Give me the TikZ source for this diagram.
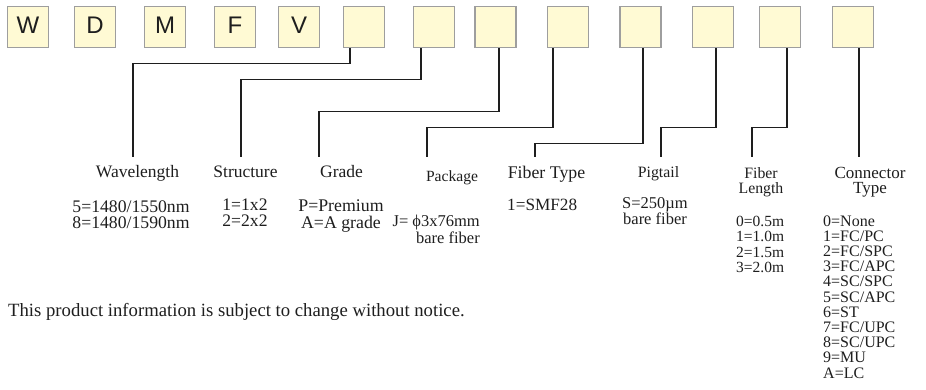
\documentclass[tikz,border=0pt]{standalone}
\usepackage{fontspec}
\setmainfont{Liberation Serif}
\newfontfamily\boxfont{Liberation Sans}
\newcommand{\stk}[2]{\begin{tabular}[t]{@{}#1@{}}#2\end{tabular}}
\definecolor{boxfill}{RGB}{255,250,212}
\definecolor{boxedge}{RGB}{158,158,158}
\definecolor{ink}{RGB}{30,30,30}
\begin{document}
\begin{tikzpicture}[x=1pt,y=-1pt,
  codebox/.style={draw=boxedge,fill=boxfill,line width=1.3pt,minimum width=41pt,minimum height=41pt,inner sep=0pt,font=\boxfont\fontsize{24}{24}\selectfont,text=ink,text height=17pt,text depth=5pt},
  wire/.style={draw=ink,line width=1.2pt},
  lbl/.style={anchor=base,inner sep=0pt,text=ink},
]
\useasboundingbox (0,0) rectangle (926,389);
% code boxes
\node[codebox] (b1) at (28,27) {W};
\node[codebox] (b2) at (95,27) {D};
\node[codebox] (b3) at (165,27) {M};
\node[codebox] (b4) at (235,27) {F};
\node[codebox] (b5) at (299,27) {V};
\node[codebox] (b6) at (364,27) {};
\node[codebox] (b7) at (434,27) {};
\node[codebox] (b8) at (495.5,27) {};
\node[codebox] (b9) at (568,27) {};
\node[codebox] (b10) at (640.5,27) {};
\node[codebox] (b11) at (713,27) {};
\node[codebox] (b12) at (780,27) {};
\node[codebox] (b13) at (853,27) {};
% titles
\node[lbl,font=\fontsize{17.5}{16}\selectfont] (wl) at (137.5,177) {Wavelength};
\node[lbl,font=\fontsize{17.5}{16}\selectfont] (st) at (245.5,177) {Structure};
\node[lbl,font=\fontsize{17.5}{16}\selectfont] (gr) at (341.5,177) {Grade};
\node[lbl,font=\fontsize{15.6}{15}\selectfont] (pk) at (452,181) {Package};
\node[lbl,font=\fontsize{17.8}{16}\selectfont] (ft) at (546.5,178) {Fiber Type};
\node[lbl,font=\fontsize{15.8}{15}\selectfont] (pg) at (658.5,177) {Pigtail};
\node[lbl,font=\fontsize{15.8}{15}\selectfont] (fl) at (761,178) {\stk{c}{Fiber\\Length}};
\node[lbl,font=\fontsize{17}{15}\selectfont] (ct) at (870,178) {\stk{c}{Connector\\Type}};
% data
\node[lbl,font=\fontsize{17.7}{16}\selectfont] (wld) at (131,212) {\stk{c}{5=1480/1550nm\\8=1480/1590nm}};
\node[lbl,font=\fontsize{17.6}{15}\selectfont] (std) at (245,210) {\stk{c}{1=1x2\\2=2x2}};
\node[lbl,font=\fontsize{17.8}{16}\selectfont] (grd) at (341,211) {\stk{c}{P=Premium\\A=A grade}};
\node[lbl,anchor=base east,font=\fontsize{16.5}{17}\selectfont] (pkd) at (480,226) {\stk{r}{J= ϕ3x76mm\\bare fiber}};
\node[lbl,anchor=base west,font=\fontsize{17.2}{16}\selectfont] (ftd) at (507,210) {1=SMF28};
\node[lbl,font=\fontsize{16.5}{15}\selectfont] (pgd) at (655,208) {\stk{c}{S=250µm\\bare fiber}};
\node[lbl,anchor=base west,font=\fontsize{15.5}{15.6}\selectfont] (fld) at (736,226) {\stk{l}{0=0.5m\\1=1.0m\\2=1.5m\\3=2.0m}};
\node[lbl,anchor=base west,font=\fontsize{16}{15.2}\selectfont] (ctd) at (823,226) {\stk{l}{0=None\\1=FC/PC\\2=FC/SPC\\3=FC/APC\\4=SC/SPC\\5=SC/APC\\6=ST\\7=FC/UPC\\8=SC/UPC\\9=MU\\A=LC}};
\node[lbl,anchor=base west,font=\fontsize{18.7}{16}\selectfont] (note) at (8,316) {This product information is subject to change without notice.};
% wire ends
\coordinate (e1) at (133,157);
\coordinate (e2) at (241,157);
\coordinate (e3) at (319,157);
\coordinate (e4) at (427,157);
\coordinate (e5) at (535,157);
\coordinate (e6) at (661,157);
\coordinate (e7) at (752,157);
\coordinate (e8) at (859,157);
% wires
\draw[wire] ([xshift=-14pt]b6.south) -- ++(0,15) -| (e1);
\draw[wire] ([xshift=-13pt]b7.south) -- ++(0,31) -| (e2);
\draw[wire] ([xshift=3.5pt]b8.south) -- ++(0,63) -| (e3);
\draw[wire] ([xshift=-15pt]b9.south) -- ++(0,79) -| (e4);
\draw[wire] ([xshift=2.5pt]b10.south) -- ++(0,95) -| (e5);
\draw[wire] ([xshift=3pt]b11.south) -- ++(0,79) -| (e6);
\draw[wire] ([xshift=7pt]b12.south) -- ++(0,79) -| (e7);
\draw[wire] ([xshift=6pt]b13.south) -- (e8);
\end{tikzpicture}
\end{document}
